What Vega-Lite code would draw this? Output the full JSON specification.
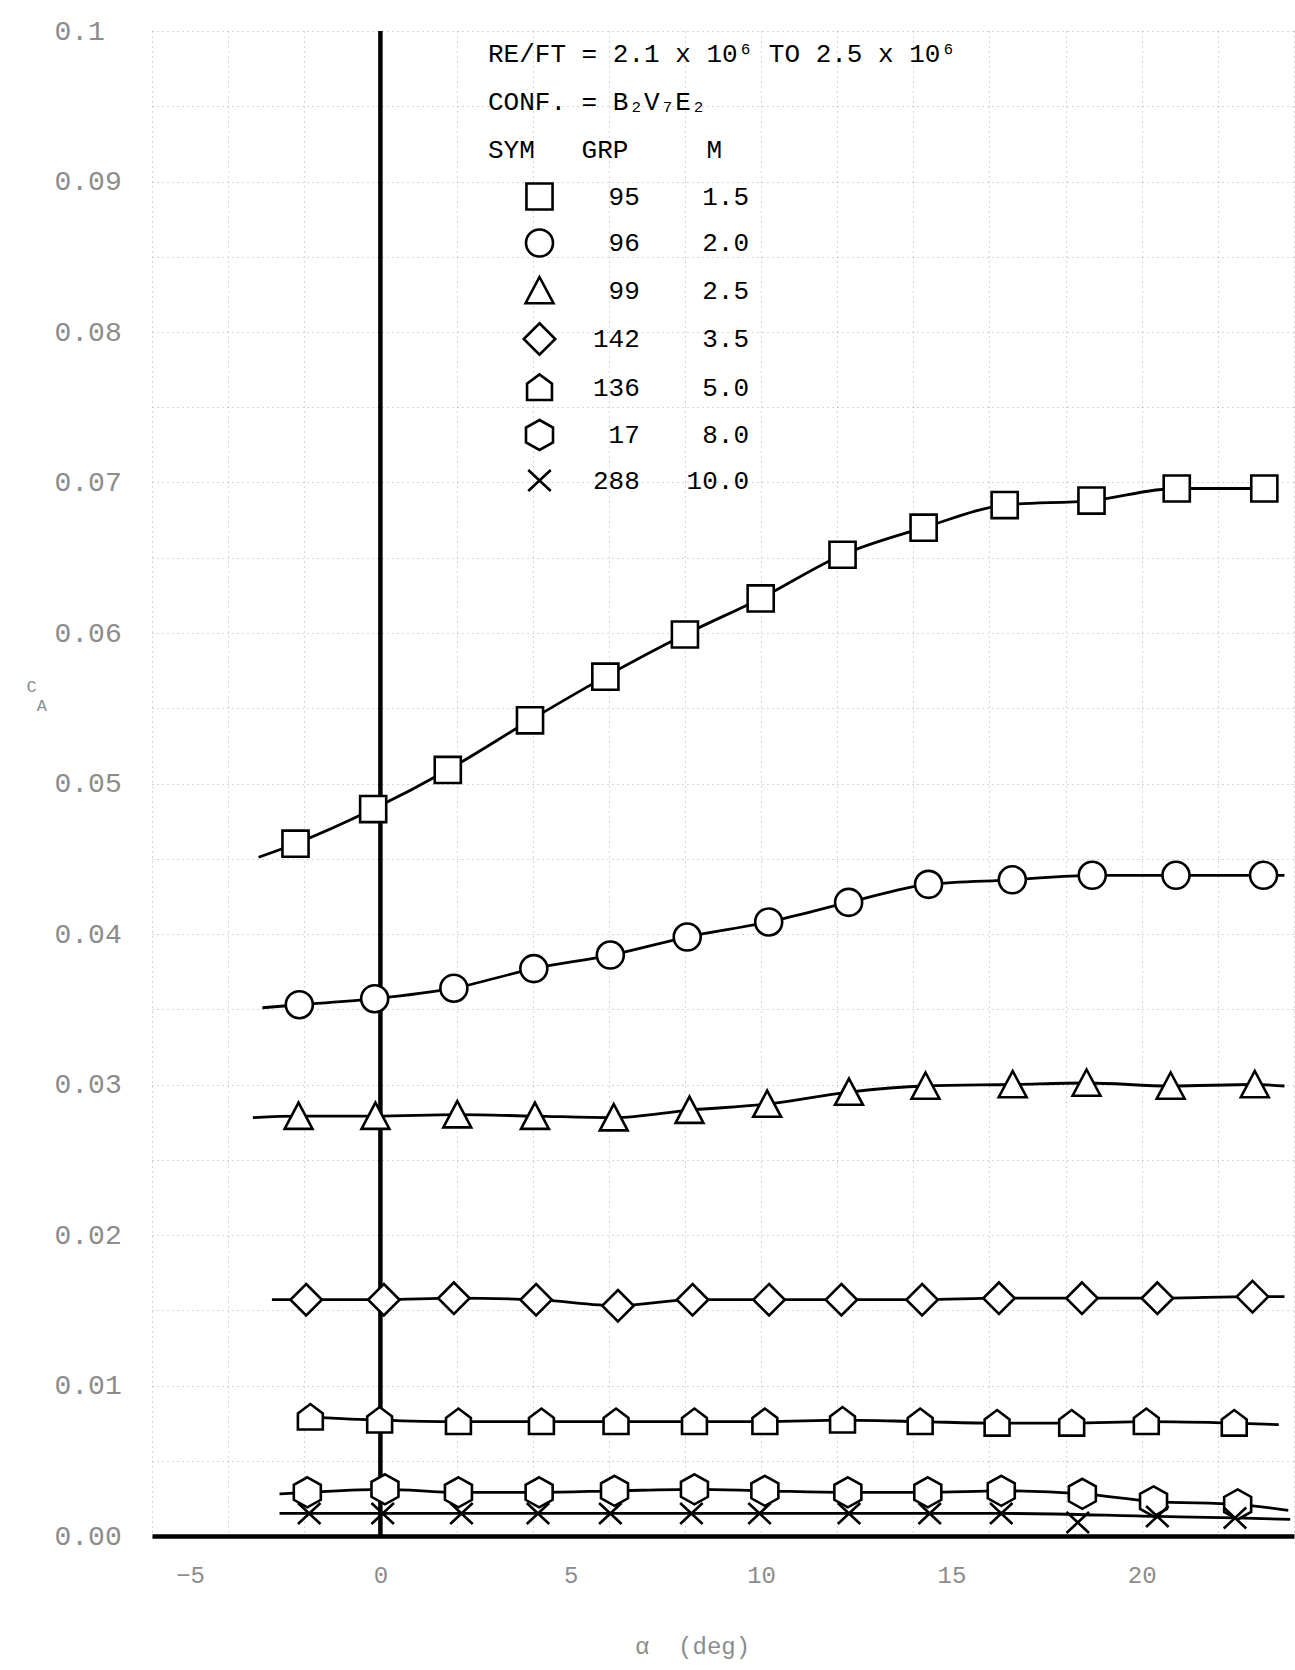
{
  "$schema": "https://vega.github.io/schema/vega-lite/v6.json",
  "width": 1142,
  "height": 1505,
  "autosize": {"type": "none"},
  "padding": {"left": 152, "top": 31, "right": 1, "bottom": 134},
  "background": "white",
  "config": {"view": {"stroke": null}},
  "resolve": {"axis": {"x": "independent", "y": "independent"}},
  "layer": [
    {
      "data": {"name": "pts"},
      "transform": [{"filter": "datum.fit"}],
      "mark": {"type": "line", "interpolate": "monotone", "color": "black", "strokeWidth": 2.8},
      "encoding": {
        "x": {
          "field": "alpha", "type": "quantitative",
          "scale": {"domain": [-6, 24], "nice": false, "zero": false},
          "axis": {
            "orient": "bottom",
            "values": [-6,-4,-2,0,2,4,6,8,10,12,14,16,18,20,22,24],
            "grid": true, "gridColor": "#9a9a9a", "gridDash": [1, 4], "gridWidth": 1, "gridOpacity": 0.8,
            "labels": false, "ticks": false, "domain": false, "title": null
          }
        },
        "y": {
          "field": "CA", "type": "quantitative",
          "scale": {"domain": [0, 0.1], "nice": false, "zero": false},
          "axis": {
            "orient": "left",
            "values": [0,0.005,0.01,0.015,0.02,0.025,0.03,0.035,0.04,0.045,0.05,0.055,0.06,0.065,0.07,0.075,0.08,0.085,0.09,0.095,0.1],
            "grid": true, "gridColor": "#9a9a9a", "gridDash": [1, 4], "gridWidth": 1, "gridOpacity": 0.8,
            "labels": false, "ticks": false, "domain": false, "title": null
          }
        },
        "detail": {"field": "grp", "type": "nominal"},
        "order": {"field": "alpha", "type": "quantitative"}
      }
    },
    {
      "data": {"values": [{}]},
      "mark": {"type": "rule", "color": "black", "strokeWidth": 4.5},
      "encoding": {
        "x": {"datum": 0, "type": "quantitative", "axis": null},
        "y": {"datum": 0.1, "type": "quantitative", "axis": null},
        "y2": {"datum": 0}
      }
    },
    {
      "data": {"name": "pts"},
      "transform": [
        {"filter": "datum.pt"},
        {"calculate": "toString(datum.grp) + '\u00a0\u00a0\u00a0' + (datum.M < 10 ? '\u00a0' : '') + format(datum.M, '.1f')", "as": "key"}
      ],
      "mark": {"type": "point", "filled": false, "fill": "white", "fillOpacity": 1, "strokeWidth": 2.6, "size": 900, "opacity": 1},
      "encoding": {
        "x": {
          "field": "alpha", "type": "quantitative",
          "axis": {
            "orient": "bottom",
            "values": [-5, 0, 5, 10, 15, 20],
            "grid": false, "ticks": false, "tickSize": 0,
            "domain": true, "domainColor": "black", "domainWidth": 4.5,
            "labelFont": "Liberation Mono", "labelFontSize": 24, "labelColor": "#8c8c8c",
            "labelPadding": 27, "labelOverlap": false, "labelBound": false, "labelFlush": false,
            "title": "α\u00a0\u00a0(deg)",
            "titleFont": "Liberation Mono", "titleFontSize": 24, "titleColor": "#8c8c8c", "titleFontWeight": "normal",
            "titleX": 540, "titleY": 110, "titleAlign": "center", "titleBaseline": "middle"
          }
        },
        "y": {
          "field": "CA", "type": "quantitative",
          "axis": {
            "orient": "left",
            "values": [0,0.01,0.02,0.03,0.04,0.05,0.06,0.07,0.08,0.09,0.1],
            "labelExpr": "datum.value > 0.0995 ? '0.1' : format(datum.value, '.2f')",
            "grid": false, "ticks": false, "tickSize": 0, "domain": false,
            "labelFont": "Liberation Mono", "labelFontSize": 28, "labelColor": "#8c8c8c",
            "labelAlign": "left", "labelBaseline": "middle", "labelPadding": 98,
            "labelOverlap": false, "labelBound": false, "labelFlush": false,
            "title": ["C", "\u200b\u00a0A"],
            "titleFont": "Liberation Mono", "titleFontSize": 17, "titleLineHeight": 19, "titleColor": "#8c8c8c", "titleFontWeight": "normal",
            "titleAngle": 0, "titleAlign": "left", "titleBaseline": "top", "titleX": -126, "titleY": 647
          }
        },
        "stroke": {
          "field": "key", "type": "nominal",
          "sort": {"field": "M", "op": "min", "order": "ascending"},
          "scale": {"range": ["black"]}
        },
        "shape": {
          "field": "key", "type": "nominal",
          "sort": {"field": "M", "op": "min", "order": "ascending"},
          "scale": {"range": [
            "M-0.87,-0.87L0.87,-0.87L0.87,0.87L-0.87,0.87Z",
            "M0.9,0A0.9,0.9,0,1,1,-0.9,0A0.9,0.9,0,1,1,0.9,0Z",
            "M0,-0.9L0.93,0.85L-0.93,0.85Z",
            "M0,-1.05L1.05,0L0,1.05L-1.05,0Z",
            "M-0.83,0.83L0.83,0.83L0.83,-0.25L0,-0.87L-0.83,-0.25Z",
            "M0,-1L0.9,-0.5L0.9,0.5L0,1L-0.9,0.5L-0.9,-0.5Z",
            "M-0.75,-0.7L0.75,0.7M0.75,-0.7L-0.75,0.7"
          ]},
          "legend": {
            "orient": "none", "legendX": 336, "legendY": 10, "padding": 0,
            "title": ["RE/FT = 2.1 x 10⁶ TO 2.5 x 10⁶", "CONF. = B₂V₇E₂", "SYM\u00a0\u00a0\u00a0GRP\u00a0\u00a0\u00a0\u00a0\u00a0M"],
            "titleFont": "Liberation Mono", "titleFontSize": 26, "titleFontWeight": "normal", "titleColor": "black",
            "titleLineHeight": 48, "titlePadding": 17, "titleLimit": 2000, "titleAnchor": "start",
            "labelFont": "Liberation Mono", "labelFontSize": 26, "labelColor": "black", "labelLimit": 2000,
            "labelAlign": "right", "labelOffset": 193, "symbolOffset": 35, "rowPadding": 8.5,
            "symbolSize": 900, "symbolFillColor": "white", "symbolStrokeColor": "black", "symbolStrokeWidth": 2.6, "symbolOpacity": 1
          }
        }
      }
    }
  ],
  "datasets": {
    "pts": [
      {"grp": 95, "M": 1.5, "alpha": -3.2, "CA": 0.0451, "pt": false, "fit": true},
      {"grp": 95, "M": 1.5, "alpha": -2.23, "CA": 0.0460, "pt": true, "fit": true},
      {"grp": 95, "M": 1.5, "alpha": -0.19, "CA": 0.0483, "pt": true, "fit": true},
      {"grp": 95, "M": 1.5, "alpha": 1.77, "CA": 0.0509, "pt": true, "fit": true},
      {"grp": 95, "M": 1.5, "alpha": 3.93, "CA": 0.0542, "pt": true, "fit": true},
      {"grp": 95, "M": 1.5, "alpha": 5.91, "CA": 0.0571, "pt": true, "fit": true},
      {"grp": 95, "M": 1.5, "alpha": 8.0, "CA": 0.0599, "pt": true, "fit": true},
      {"grp": 95, "M": 1.5, "alpha": 9.99, "CA": 0.0623, "pt": true, "fit": true},
      {"grp": 95, "M": 1.5, "alpha": 12.14, "CA": 0.0652, "pt": true, "fit": true},
      {"grp": 95, "M": 1.5, "alpha": 14.27, "CA": 0.0670, "pt": true, "fit": true},
      {"grp": 95, "M": 1.5, "alpha": 16.4, "CA": 0.0685, "pt": true, "fit": true},
      {"grp": 95, "M": 1.5, "alpha": 18.68, "CA": 0.0688, "pt": true, "fit": true},
      {"grp": 95, "M": 1.5, "alpha": 20.92, "CA": 0.0696, "pt": true, "fit": true},
      {"grp": 95, "M": 1.5, "alpha": 23.22, "CA": 0.0696, "pt": true, "fit": true},

      {"grp": 96, "M": 2.0, "alpha": -3.1, "CA": 0.0351, "pt": false, "fit": true},
      {"grp": 96, "M": 2.0, "alpha": -2.13, "CA": 0.0353, "pt": true, "fit": true},
      {"grp": 96, "M": 2.0, "alpha": -0.15, "CA": 0.0357, "pt": true, "fit": true},
      {"grp": 96, "M": 2.0, "alpha": 1.93, "CA": 0.0364, "pt": true, "fit": true},
      {"grp": 96, "M": 2.0, "alpha": 4.03, "CA": 0.0377, "pt": true, "fit": true},
      {"grp": 96, "M": 2.0, "alpha": 6.04, "CA": 0.0386, "pt": true, "fit": true},
      {"grp": 96, "M": 2.0, "alpha": 8.06, "CA": 0.0398, "pt": true, "fit": true},
      {"grp": 96, "M": 2.0, "alpha": 10.2, "CA": 0.0408, "pt": true, "fit": true},
      {"grp": 96, "M": 2.0, "alpha": 12.3, "CA": 0.0421, "pt": true, "fit": true},
      {"grp": 96, "M": 2.0, "alpha": 14.4, "CA": 0.0433, "pt": true, "fit": true},
      {"grp": 96, "M": 2.0, "alpha": 16.6, "CA": 0.0436, "pt": true, "fit": true},
      {"grp": 96, "M": 2.0, "alpha": 18.7, "CA": 0.0439, "pt": true, "fit": true},
      {"grp": 96, "M": 2.0, "alpha": 20.9, "CA": 0.0439, "pt": true, "fit": true},
      {"grp": 96, "M": 2.0, "alpha": 23.2, "CA": 0.0439, "pt": true, "fit": true},
      {"grp": 96, "M": 2.0, "alpha": 23.75, "CA": 0.0439, "pt": false, "fit": true},

      {"grp": 99, "M": 2.5, "alpha": -3.35, "CA": 0.0278, "pt": false, "fit": true},
      {"grp": 99, "M": 2.5, "alpha": -2.15, "CA": 0.0279, "pt": true, "fit": true},
      {"grp": 99, "M": 2.5, "alpha": -0.13, "CA": 0.0279, "pt": true, "fit": true},
      {"grp": 99, "M": 2.5, "alpha": 2.02, "CA": 0.0280, "pt": true, "fit": true},
      {"grp": 99, "M": 2.5, "alpha": 4.06, "CA": 0.0279, "pt": true, "fit": true},
      {"grp": 99, "M": 2.5, "alpha": 6.13, "CA": 0.0278, "pt": true, "fit": true},
      {"grp": 99, "M": 2.5, "alpha": 8.12, "CA": 0.0283, "pt": true, "fit": true},
      {"grp": 99, "M": 2.5, "alpha": 10.16, "CA": 0.0287, "pt": true, "fit": true},
      {"grp": 99, "M": 2.5, "alpha": 12.31, "CA": 0.0295, "pt": true, "fit": true},
      {"grp": 99, "M": 2.5, "alpha": 14.32, "CA": 0.0299, "pt": true, "fit": true},
      {"grp": 99, "M": 2.5, "alpha": 16.61, "CA": 0.0300, "pt": true, "fit": true},
      {"grp": 99, "M": 2.5, "alpha": 18.55, "CA": 0.0301, "pt": true, "fit": true},
      {"grp": 99, "M": 2.5, "alpha": 20.76, "CA": 0.0299, "pt": true, "fit": true},
      {"grp": 99, "M": 2.5, "alpha": 22.97, "CA": 0.0300, "pt": true, "fit": true},
      {"grp": 99, "M": 2.5, "alpha": 23.75, "CA": 0.0299, "pt": false, "fit": true},

      {"grp": 142, "M": 3.5, "alpha": -2.85, "CA": 0.0157, "pt": false, "fit": true},
      {"grp": 142, "M": 3.5, "alpha": -1.95, "CA": 0.0157, "pt": true, "fit": true},
      {"grp": 142, "M": 3.5, "alpha": 0.09, "CA": 0.0157, "pt": true, "fit": true},
      {"grp": 142, "M": 3.5, "alpha": 1.93, "CA": 0.0158, "pt": true, "fit": true},
      {"grp": 142, "M": 3.5, "alpha": 4.09, "CA": 0.0157, "pt": true, "fit": true},
      {"grp": 142, "M": 3.5, "alpha": 6.24, "CA": 0.0153, "pt": true, "fit": true},
      {"grp": 142, "M": 3.5, "alpha": 8.2, "CA": 0.0157, "pt": true, "fit": true},
      {"grp": 142, "M": 3.5, "alpha": 10.21, "CA": 0.0157, "pt": true, "fit": true},
      {"grp": 142, "M": 3.5, "alpha": 12.11, "CA": 0.0157, "pt": true, "fit": true},
      {"grp": 142, "M": 3.5, "alpha": 14.23, "CA": 0.0157, "pt": true, "fit": true},
      {"grp": 142, "M": 3.5, "alpha": 16.25, "CA": 0.0158, "pt": true, "fit": true},
      {"grp": 142, "M": 3.5, "alpha": 18.43, "CA": 0.0158, "pt": true, "fit": true},
      {"grp": 142, "M": 3.5, "alpha": 20.41, "CA": 0.0158, "pt": true, "fit": true},
      {"grp": 142, "M": 3.5, "alpha": 22.91, "CA": 0.0159, "pt": true, "fit": true},
      {"grp": 142, "M": 3.5, "alpha": 23.75, "CA": 0.0159, "pt": false, "fit": true},

      {"grp": 136, "M": 5.0, "alpha": -1.84, "CA": 0.0079, "pt": true, "fit": true},
      {"grp": 136, "M": 5.0, "alpha": -0.02, "CA": 0.0077, "pt": true, "fit": true},
      {"grp": 136, "M": 5.0, "alpha": 2.05, "CA": 0.0076, "pt": true, "fit": true},
      {"grp": 136, "M": 5.0, "alpha": 4.23, "CA": 0.0076, "pt": true, "fit": true},
      {"grp": 136, "M": 5.0, "alpha": 6.19, "CA": 0.0076, "pt": true, "fit": true},
      {"grp": 136, "M": 5.0, "alpha": 8.25, "CA": 0.0076, "pt": true, "fit": true},
      {"grp": 136, "M": 5.0, "alpha": 10.1, "CA": 0.0076, "pt": true, "fit": true},
      {"grp": 136, "M": 5.0, "alpha": 12.14, "CA": 0.0077, "pt": true, "fit": true},
      {"grp": 136, "M": 5.0, "alpha": 14.18, "CA": 0.0076, "pt": true, "fit": true},
      {"grp": 136, "M": 5.0, "alpha": 16.2, "CA": 0.0075, "pt": true, "fit": true},
      {"grp": 136, "M": 5.0, "alpha": 18.16, "CA": 0.0075, "pt": true, "fit": true},
      {"grp": 136, "M": 5.0, "alpha": 20.12, "CA": 0.0076, "pt": true, "fit": true},
      {"grp": 136, "M": 5.0, "alpha": 22.43, "CA": 0.0075, "pt": true, "fit": true},
      {"grp": 136, "M": 5.0, "alpha": 23.6, "CA": 0.0074, "pt": false, "fit": true},

      {"grp": 17, "M": 8.0, "alpha": -2.65, "CA": 0.0028, "pt": false, "fit": true},
      {"grp": 17, "M": 8.0, "alpha": -1.92, "CA": 0.0029, "pt": true, "fit": true},
      {"grp": 17, "M": 8.0, "alpha": 0.12, "CA": 0.0031, "pt": true, "fit": true},
      {"grp": 17, "M": 8.0, "alpha": 2.05, "CA": 0.0029, "pt": true, "fit": true},
      {"grp": 17, "M": 8.0, "alpha": 4.17, "CA": 0.0029, "pt": true, "fit": true},
      {"grp": 17, "M": 8.0, "alpha": 6.15, "CA": 0.0030, "pt": true, "fit": true},
      {"grp": 17, "M": 8.0, "alpha": 8.25, "CA": 0.0031, "pt": true, "fit": true},
      {"grp": 17, "M": 8.0, "alpha": 10.1, "CA": 0.0030, "pt": true, "fit": true},
      {"grp": 17, "M": 8.0, "alpha": 12.28, "CA": 0.0029, "pt": true, "fit": true},
      {"grp": 17, "M": 8.0, "alpha": 14.38, "CA": 0.0029, "pt": true, "fit": true},
      {"grp": 17, "M": 8.0, "alpha": 16.31, "CA": 0.0030, "pt": true, "fit": true},
      {"grp": 17, "M": 8.0, "alpha": 18.44, "CA": 0.0028, "pt": true, "fit": true},
      {"grp": 17, "M": 8.0, "alpha": 20.31, "CA": 0.0023, "pt": true, "fit": true},
      {"grp": 17, "M": 8.0, "alpha": 22.52, "CA": 0.0021, "pt": true, "fit": true},
      {"grp": 17, "M": 8.0, "alpha": 23.85, "CA": 0.0017, "pt": false, "fit": true},

      {"grp": 288, "M": 10.0, "alpha": -2.65, "CA": 0.0015, "pt": false, "fit": true},
      {"grp": 288, "M": 10.0, "alpha": -1.87, "CA": 0.0015, "pt": true, "fit": true},
      {"grp": 288, "M": 10.0, "alpha": 0.06, "CA": 0.0015, "pt": true, "fit": true},
      {"grp": 288, "M": 10.0, "alpha": 2.13, "CA": 0.0015, "pt": true, "fit": true},
      {"grp": 288, "M": 10.0, "alpha": 4.14, "CA": 0.0015, "pt": true, "fit": true},
      {"grp": 288, "M": 10.0, "alpha": 6.04, "CA": 0.0015, "pt": true, "fit": true},
      {"grp": 288, "M": 10.0, "alpha": 8.17, "CA": 0.0015, "pt": true, "fit": true},
      {"grp": 288, "M": 10.0, "alpha": 9.96, "CA": 0.0015, "pt": true, "fit": true},
      {"grp": 288, "M": 10.0, "alpha": 12.31, "CA": 0.0015, "pt": true, "fit": true},
      {"grp": 288, "M": 10.0, "alpha": 14.43, "CA": 0.0015, "pt": true, "fit": true},
      {"grp": 288, "M": 10.0, "alpha": 16.31, "CA": 0.0015, "pt": true, "fit": true},
      {"grp": 288, "M": 10.0, "alpha": 18.32, "CA": 0.0009, "pt": true, "fit": false},
      {"grp": 288, "M": 10.0, "alpha": 20.41, "CA": 0.0013, "pt": true, "fit": true},
      {"grp": 288, "M": 10.0, "alpha": 22.45, "CA": 0.0012, "pt": true, "fit": true},
      {"grp": 288, "M": 10.0, "alpha": 23.9, "CA": 0.0011, "pt": false, "fit": true}
    ]
  }
}
